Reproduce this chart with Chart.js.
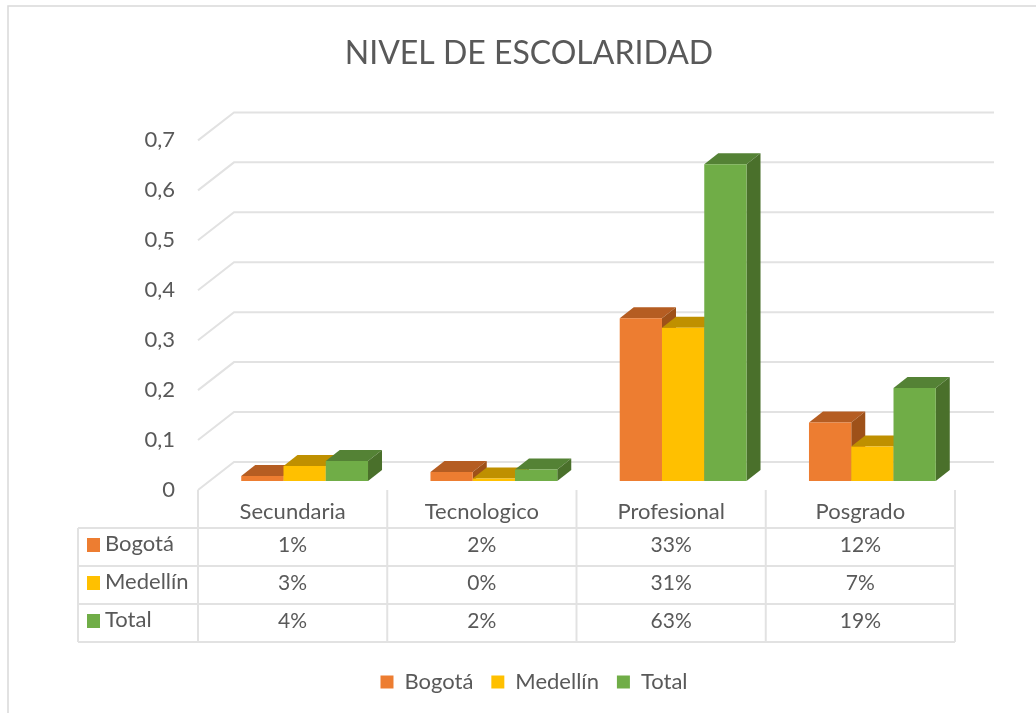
<!DOCTYPE html>
<html>
<head>
<meta charset="utf-8">
<title>Nivel de escolaridad</title>
<script src="https://cdn.jsdelivr.net/npm/chart.js@4/dist/chart.umd.min.js"></script>
<style>
  html, body { margin: 0; background: #fff; }
  canvas { display: block; filter: blur(0.45px); }
</style>
</head>
<body>
<canvas id="chart" width="1036" height="713"></canvas>
<script>
const categories = ['Secundaria', 'Tecnologico', 'Profesional', 'Posgrado'];
const seriesNames = ['Bogotá', 'Medellín', 'Total'];
const bogota = [0.01, 0.018, 0.326, 0.117];
const medellin = [0.03, 0.005, 0.307, 0.069];
const total = [0.04, 0.023, 0.634, 0.186];
const tableRows = [
  ['1%', '2%', '33%', '12%'],
  ['3%', '0%', '31%', '7%'],
  ['4%', '2%', '63%', '19%']
];
const yTickLabels = ['0', '0,1', '0,2', '0,3', '0,4', '0,5', '0,6', '0,7'];

const frontColors = ['#ED7D31', '#FFC000', '#70AD47'];
const topColors = ['#B55D22', '#BF9000', '#548235'];
const sideColors = ['#9E5119', '#A37B00', '#4A702B'];
const textColor = '#595959';
const lineColor = '#E2E2E2';
const fontName = 'Lato, "Open Sans", sans-serif';

function line(ctx, points) {
  ctx.beginPath();
  points.forEach((p, i) => i ? ctx.lineTo(p[0], p[1]) : ctx.moveTo(p[0], p[1]));
  ctx.stroke();
}

function face(ctx, points, color) {
  ctx.fillStyle = color;
  ctx.beginPath();
  points.forEach((p, i) => i ? ctx.lineTo(p[0], p[1]) : ctx.moveTo(p[0], p[1]));
  ctx.closePath();
  ctx.fill();
}

// the excel look: back wall gridlines, then the boxes left to right
const box3d = {
  id: 'box3d',
  afterLayout(chart) {
    // legend sits a bit right of the title in the original
    chart.legend.left += 5;
    chart.legend.right += 5;
  },
  beforeDatasetsDraw(chart) {
    const ctx = chart.ctx;
    const y = chart.scales.y;
    ctx.save();
    ctx.strokeStyle = lineColor;
    ctx.lineWidth = 2;
    y.ticks.forEach(t => {
      const py = y.getPixelForValue(t.value);
      line(ctx, [[y.right, py], [y.right + 36, py - 28], [chart.chartArea.right + 39, py - 28]]);
    });
    ctx.restore();

    ctx.save();
    ctx.translate(12, -9);
    chart.data.datasets.forEach((ds, i) => {
      chart.getDatasetMeta(i).data.forEach(bar => {
        const p = bar.getProps(['x', 'y', 'base', 'width']);
        const l = p.x - p.width / 2;
        const r = p.x + p.width / 2;
        face(ctx, [[l, p.y], [l + 14, p.y - 11], [r + 14, p.y - 11], [r, p.y]], topColors[i]);
        face(ctx, [[r, p.y], [r + 14, p.y - 11], [r + 14, p.base - 11], [r, p.base]], sideColors[i]);
        bar.draw(ctx);
      });
    });
    ctx.restore();
    return false;
  },
  afterDraw(chart) {
    const ctx = chart.ctx;
    const x = chart.scales.x;
    const base = chart.chartArea.bottom;
    const rowY = [528, 566, 604, 642];
    const tableLeft = 78;
    const cell = x.width / categories.length;
    ctx.save();
    ctx.strokeStyle = '#D9D9D9';
    ctx.lineWidth = 1.5;
    line(ctx, [[8, 713], [8, 6], [1036, 6]]);
    ctx.strokeStyle = lineColor;
    ctx.lineWidth = 2;
    rowY.forEach(ry => line(ctx, [[tableLeft, ry], [x.right, ry]]));
    line(ctx, [[tableLeft, rowY[0]], [tableLeft, rowY[3]]]);
    for (let i = 0; i <= categories.length; i++) {
      line(ctx, [[x.left + i * cell, base], [x.left + i * cell, rowY[3]]]);
    }
    ctx.textBaseline = 'middle';
    seriesNames.forEach((name, r) => {
      const mid = (rowY[r] + rowY[r + 1]) / 2;
      ctx.fillStyle = frontColors[r];
      ctx.fillRect(87, mid - 9, 13, 14);
      ctx.fillStyle = textColor;
      ctx.textAlign = 'left';
      ctx.font = '22px ' + fontName;
      ctx.fillText(name, 105, mid - 3);
      ctx.textAlign = 'center';
      ctx.font = '21px ' + fontName;
      tableRows[r].forEach((txt, c) => {
        ctx.fillText(txt, x.getPixelForTick(c), mid - 2);
      });
    });
    ctx.restore();
  }
};

new Chart(document.getElementById('chart'), {
  type: 'bar',
  data: {
    labels: categories,
    datasets: [bogota, medellin, total].map((values, i) => ({
      label: seriesNames[i],
      data: values,
      backgroundColor: frontColors[i],
      borderWidth: 0,
      categoryPercentage: 0.67,
      barPercentage: 1
    }))
  },
  options: {
    responsive: false,
    animation: false,
    layout: { padding: { left: 103, right: 81, top: 0, bottom: 10 } },
    scales: {
      x: {
        grid: { display: false, drawTicks: false },
        border: { display: false },
        ticks: { color: textColor, font: { family: fontName, size: 22 }, padding: 9, maxRotation: 0 },
        afterFit: s => { s.height = 163; }
      },
      y: {
        min: 0,
        max: 0.7,
        grid: { display: false, drawTicks: false },
        border: { display: false },
        ticks: {
          stepSize: 0.1,
          color: textColor,
          font: { family: fontName, size: 22 },
          padding: 23,
          callback: (v, i) => yTickLabels[i]
        },
        afterFit: s => { s.width = 95; }
      }
    },
    plugins: {
      title: {
        display: true,
        text: 'NIVEL DE ESCOLARIDAD',
        color: textColor,
        font: { family: fontName, size: 32, weight: 'normal' },
        padding: { top: 34, bottom: 68 }
      },
      legend: {
        position: 'bottom',
        labels: {
          color: textColor,
          font: { family: fontName, size: 22 },
          boxWidth: 13,
          boxHeight: 13,
          padding: 18
        }
      },
      tooltip: { enabled: false }
    }
  },
  plugins: [box3d]
});
</script>
</body>
</html>
